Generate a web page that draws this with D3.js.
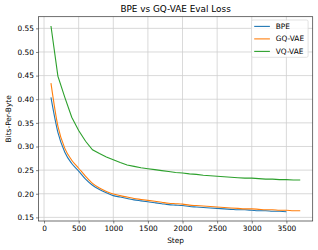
<!DOCTYPE html>
<html>
<head>
<meta charset="utf-8">
<script src="https://cdn.jsdelivr.net/npm/d3@7"></script>
<style>
  body { margin: 0; background: #fff; }
  text { font-family: "DejaVu Sans", sans-serif; fill: #000; }
</style>
</head>
<body>
<svg id="chart" width="318" height="250"></svg>
<script>
// Evaluation steps
const steps = [100, 200, 300, 400, 500, 600, 700, 800, 900, 1000,
  1100, 1200, 1300, 1400, 1500, 1600, 1700, 1800, 1900, 2000,
  2100, 2200, 2300, 2400, 2500, 2600, 2700, 2800, 2900, 3000,
  3100, 3200, 3300, 3400, 3500, 3600, 3700]

// Loss values (bits per byte)
const bpe = [0.404, 0.330, 0.288, 0.264, 0.248, 0.231, 0.218, 0.209, 0.202, 0.196,
  0.193, 0.190, 0.187, 0.185, 0.183, 0.181, 0.179, 0.177, 0.176, 0.175,
  0.173, 0.172, 0.171, 0.170, 0.169, 0.168, 0.167, 0.166, 0.166, 0.165,
  0.164, 0.164, 0.163, 0.163, 0.162]
const gqVae = [0.434, 0.343, 0.296, 0.271, 0.254, 0.237, 0.222, 0.212, 0.205, 0.1995,
  0.196, 0.193, 0.190, 0.188, 0.186, 0.184, 0.182, 0.180, 0.179, 0.178,
  0.176, 0.175, 0.174, 0.173, 0.172, 0.171, 0.170, 0.169, 0.168, 0.168,
  0.167, 0.166, 0.166, 0.165, 0.165, 0.164, 0.164]
const vqVae = [0.555, 0.449, 0.404, 0.362, 0.334, 0.311, 0.293, 0.285, 0.278, 0.272,
  0.266, 0.261, 0.258, 0.255, 0.253, 0.251, 0.249, 0.247, 0.245, 0.244,
  0.242, 0.241, 0.239, 0.238, 0.237, 0.236, 0.235, 0.234, 0.233, 0.233,
  0.232, 0.231, 0.231, 0.230, 0.230, 0.229, 0.229]

const seriesNames = ["BPE", "GQ-VAE", "VQ-VAE"]
const seriesValues = [bpe, gqVae, vqVae]
const seriesColors = ["#1f77b4", "#ff7f0e", "#2ca02c"]

const xTicks = [0, 500, 1000, 1500, 2000, 2500, 3000, 3500]
const yTicks = [0.15, 0.20, 0.25, 0.30, 0.35, 0.40, 0.45, 0.50, 0.55]

const svg = d3.select("#chart")
const margin = { top: 16.7, right: 5.3, bottom: 29, left: 38.5 }
const width = 318 - margin.left - margin.right
const height = 250 - margin.top - margin.bottom

// matplotlib-style 5% padding around the data
const allVals = seriesValues.flat()
const xMin = d3.min(steps), xMax = d3.max(steps)
const yMin = d3.min(allVals), yMax = d3.max(allVals)
const xPad = (xMax - xMin) * 0.05, yPad = (yMax - yMin) * 0.05

const x = d3.scaleLinear().domain([xMin - xPad, xMax + xPad]).range([0, width])
const y = d3.scaleLinear().domain([yMin - yPad, yMax + yPad]).range([height, 0])

const g = svg.append("g").attr("transform", `translate(${margin.left},${margin.top})`)

// grid
g.append("g").selectAll("line").data(xTicks).enter().append("line")
  .attr("x1", d => x(d)).attr("x2", d => x(d))
  .attr("y1", 0).attr("y2", height)
  .attr("stroke", "#cfcfcf").attr("stroke-width", 0.8)
g.append("g").selectAll("line").data(yTicks).enter().append("line")
  .attr("x1", 0).attr("x2", width)
  .attr("y1", d => y(d)).attr("y2", d => y(d))
  .attr("stroke", "#cfcfcf").attr("stroke-width", 0.8)

// lines (BPE / GQ-VAE are logged densely, so draw them smooth)
seriesValues.forEach((vals, i) => {
  const line = d3.line().x(d => x(d[0])).y(d => y(d[1]))
    .curve(i < 2 ? d3.curveMonotoneX : d3.curveLinear)
  g.append("path")
    .datum(vals.map((v, j) => [steps[j], v]))
    .attr("fill", "none")
    .attr("stroke", seriesColors[i])
    .attr("stroke-width", 1.1)
    .attr("d", line)
})

// axes
const xAxis = g.append("g").attr("transform", `translate(0,${height})`)
  .call(d3.axisBottom(x).tickValues(xTicks).tickSize(2.5).tickPadding(2).tickFormat(d3.format("d")))
const yAxis = g.append("g")
  .call(d3.axisLeft(y).tickValues(yTicks).tickSize(2.5).tickPadding(2).tickFormat(d3.format(".2f")))
;[xAxis, yAxis].forEach(a => {
  a.select(".domain").remove()
  a.selectAll("text").attr("font-size", "7.4px").attr("font-family", "DejaVu Sans").attr("fill", "#000")
  a.selectAll("line").attr("stroke", "#333").attr("stroke-width", 0.6)
})
xAxis.selectAll("text").attr("dy", "0.75em")

// frame
g.append("rect").attr("width", width).attr("height", height)
  .attr("fill", "none").attr("stroke", "#333").attr("stroke-width", 0.7)

// titles
svg.append("text").attr("x", margin.left + width / 2).attr("y", 12.3)
  .attr("text-anchor", "middle").attr("font-size", "8.9px").text("BPE vs GQ-VAE Eval Loss")
svg.append("text").attr("x", margin.left + width / 2).attr("y", 242.5)
  .attr("text-anchor", "middle").attr("font-size", "7.4px").text("Step")
svg.append("text").attr("transform", `translate(10.5,${margin.top + height / 2}) rotate(-90)`)
  .attr("text-anchor", "middle").attr("font-size", "7.4px").text("Bits-Per-Byte")

// legend
const legend = g.append("g").attr("transform", `translate(${width - 61.2},3.3)`)
legend.append("rect").attr("width", 56.6).attr("height", 37.3).attr("rx", 1.5)
  .attr("fill", "#fff").attr("fill-opacity", 0.8).attr("stroke", "#d6d6d6").attr("stroke-width", 0.7)
const items = legend.selectAll(".item").data(seriesNames).enter().append("g")
  .attr("transform", (d, i) => `translate(0,${6.4 + i * 12.5})`)
items.append("line").attr("x1", 2.7).attr("x2", 18.4)
  .attr("stroke", (d, i) => seriesColors[i]).attr("stroke-width", 1.1)
items.append("text").attr("x", 24.3).attr("dy", "0.35em").attr("font-size", "7.4px").text(d => d)
</script>
</body>
</html>
